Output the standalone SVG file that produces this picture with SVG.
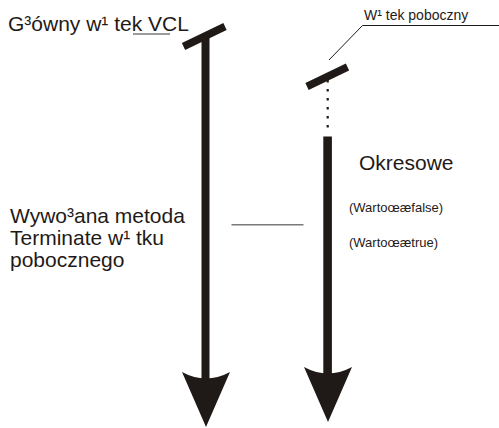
<svg xmlns="http://www.w3.org/2000/svg" width="499" height="428" viewBox="0 0 499 428">
<style>
.big{font-family:"Liberation Sans",Arial,sans-serif;font-size:21px;fill:#1f1a17}
.small{font-family:"Liberation Sans",Arial,sans-serif;font-size:13px;fill:#1f1a17}
.lbl{font-family:"Liberation Sans",Arial,sans-serif;font-size:14px;fill:#1f1a17}
.ink{fill:#1f1a17;stroke:none}
.bar{stroke:#1f1a17;stroke-width:7.5;fill:none}
.gray{stroke:#7a7a7a;stroke-width:1.4;fill:none}
.thin{stroke:#1f1a17;stroke-width:1;fill:none}
</style>
<rect width="499" height="428" fill="#ffffff"/>
<g id="main-thread">
<text class="big" x="8" y="31">G³ówny w¹ tek VCL</text>
<line class="gray" x1="133" y1="34" x2="170" y2="34"/>
<line class="bar" x1="183.5" y1="46.5" x2="225" y2="26.5"/>
<rect class="ink" x="201.5" y="36" width="8" height="344"/>
<path class="ink" d="M182,372 Q206,385 230,372 L206,427 Z"/>
</g>
<g id="side-thread">
<text class="lbl" x="364" y="20">W¹ tek poboczny</text>
<line class="bar" x1="307" y1="86.5" x2="347.5" y2="67"/>
<line stroke="#1f1a17" stroke-width="2.2" stroke-dasharray="2.5 6.5" x1="327.7" y1="80" x2="327.7" y2="134"/>
<rect class="ink" x="323.3" y="136.5" width="8.6" height="238"/>
<path class="ink" d="M304,367 Q328,380 352,367 L328,422 Z"/>
<text class="big" x="359" y="170">Okresowe</text>
<text class="small" x="349" y="212">(Wartoœæfalse)</text>
<text class="small" x="349" y="247">(Wartoœætrue)</text>
</g>
<g id="terminate-note">
<text class="big" x="10" y="223">Wywo³ana metoda</text>
<text class="big" x="10" y="245">Terminate w¹ tku</text>
<text class="big" x="10" y="267">pobocznego</text>
</g>
<g id="connectors">
<polyline class="thin" points="329,60 362.5,25.5 499,25.5"/>
<line class="gray" x1="231.5" y1="224.7" x2="303.5" y2="224.7"/>
</g>
</svg>
